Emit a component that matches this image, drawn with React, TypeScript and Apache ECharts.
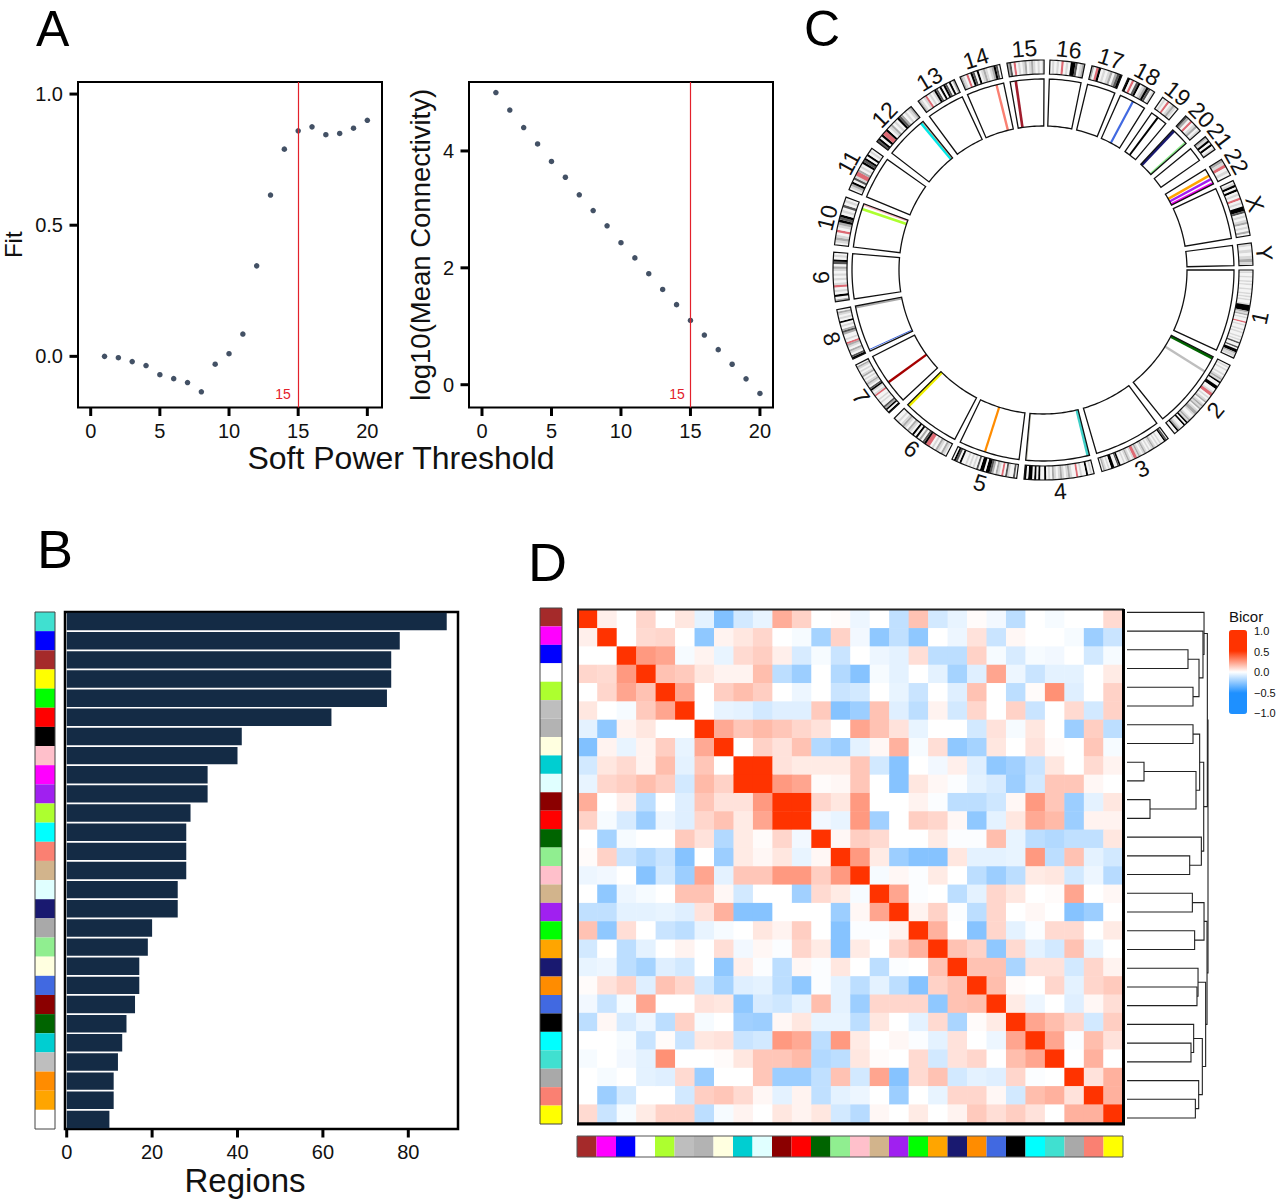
import React, { useEffect, useRef } from "react";
import * as echarts from "echarts";

const FONT = '"Liberation Sans", Arial, sans-serif';

// Panel A
const powers = [1,2,3,4,5,6,7,8,9,10,11,12,13,14,15,16,17,18,19,20];
const fitValues = [0.0,-0.005,-0.02,-0.035,-0.07,-0.085,-0.1,-0.135,-0.03,0.01,0.085,0.345,0.615,0.79,0.86,0.875,0.845,0.85,0.87,0.9];
const connectivity = [5.0,4.7,4.4,4.12,3.82,3.55,3.25,2.98,2.72,2.43,2.17,1.9,1.63,1.37,1.1,0.85,0.6,0.35,0.1,-0.15];
const powerTicks = [0,5,10,15,20];
const fitTicks = [0,0.5,1];
const connectivityTicks = [0,2,4];

// Panel B
const moduleColors = ["#40E0D0","#0000FF","#A52A2A","#FFFF00","#00FF00","#FF0000","#000000","#FFC0CB","#FF00FF","#A020F0","#ADFF2F","#00FFFF","#FA8072","#D2B48C","#E0FFFF","#191970","#A9A9A9","#90EE90","#FFFFE0","#4169E1","#8B0000","#006400","#00CED1","#BEBEBE","#FF8C00","#FFA500","#FFFFFF"];
const regionCounts = [89,78,76,76,75,62,41,40,33,33,29,28,28,28,26,26,20,19,17,17,16,14,13,12,11,11,10];
const regionTicks = [0,20,40,60,80];

// Panel D
const heatColors = ["#A52A2A","#FF00FF","#0000FF","#FFFFFF","#ADFF2F","#BEBEBE","#B3B3B3","#FFFFE0","#00CED1","#E0FFFF","#8B0000","#FF0000","#006400","#90EE90","#FFC0CB","#D2B48C","#A020F0","#00FF00","#FFA500","#191970","#FF8C00","#4169E1","#000000","#00FFFF","#40E0D0","#A9A9A9","#FA8072","#FFFF00"];
const bicorUpper: number[][] = [
  [1,.04,0,.10,0,.06,-.06,-.28,-.10,-.05,.20,.11,0,.01,-.04,0,-.14,.15,-.10,-.05,.01,-.03,-.15,0,-.02,0,0,.09],
  [1,0,.09,.10,0,-.25,.03,.06,.10,0,-.02,-.20,.11,-.03,-.25,-.14,-.25,0,-.04,.07,-.12,.02,0,0,-.02,-.22,-.12],
  [1,.25,.22,-.02,.03,-.05,.09,.12,.04,-.09,-.02,-.12,0,-.04,-.06,.08,-.15,-.15,.11,-.02,-.09,-.02,-.03,0,-.10,-.02],
  [1,.15,.13,.06,.03,.03,.16,-.15,-.22,0,-.17,-.27,-.02,-.06,0,-.06,-.20,-.07,.22,-.04,-.12,-.06,-.06,0,.05],
  [1,.22,0,.12,.16,.12,0,-.04,0,-.12,-.10,0,-.05,-.12,0,-.07,.15,0,-.15,.01,.27,-.07,0,.11],
  [1,0,-.05,-.06,-.10,-.07,-.07,.13,-.27,-.22,.15,-.07,-.15,.03,-.10,.10,0,.11,-.12,0,.09,-.10,.11],
  [1,.21,.14,.17,.14,.10,.07,0,.22,.15,.07,-.05,0,0,-.10,.07,-.02,.06,0,-.22,.12,-.15],
  [1,0,.11,.07,.15,-.17,-.22,-.06,.02,.19,-.02,.08,-.25,-.20,.06,0,.07,.01,0,.14,-.02],
  [1,1,.07,.05,.05,.05,.14,-.10,-.27,0,-.03,.04,-.07,-.25,-.21,-.12,.06,0,.09,.03],
  [1,.25,.22,.01,.02,.14,0,-.27,.06,.02,-.01,-.06,-.09,-.22,-.10,.14,.14,.02,0],
  [1,1,.10,.06,.25,0,0,.03,-.01,-.15,-.15,-.11,.02,.25,.14,-.22,-.06,.06],
  [1,-.03,-.05,.25,-.21,0,.12,.10,.02,-.25,-.06,.06,.21,.17,-.22,.03,.03],
  [1,.02,.12,.09,0,0,.05,-.01,-.01,.16,-.05,-.15,-.17,-.14,-.14,.06],
  [1,.25,.05,-.22,-.27,-.27,.06,-.06,-.06,-.05,.25,-.15,.15,-.06,-.10],
  [1,-.02,.02,-.01,.05,0,-.15,-.22,-.15,.05,.06,-.10,-.04,-.16],
  [1,.22,-.01,0,-.15,-.06,.10,.06,0,.01,.22,0,.02],
  [1,.03,.11,-.01,-.15,.10,0,.02,0,-.27,-.22,0],
  [1,.19,0,-.27,.10,-.06,-.01,.09,.09,0,.05],
  [1,.15,.11,-.25,.09,-.06,-.10,.15,-.05,0],
  [1,.15,.15,-.19,.07,.07,-.10,.10,.03],
  [1,.16,.01,0,.10,-.06,.10,.13],
  [1,.05,-.04,0,-.07,.02,.08],
  [1,.22,.16,.10,-.10,.12],
  [1,.22,-.01,.16,.07],
  [1,0,.19,0],
  [1,.07,.19],
  [1,.19],
  [1],
];
const bicorStops = ["#1E90FF","#1E90FF","#FFFFFF","#FF3300","#FF3300"];

// dendrogram: [left node, right node, merge height]; leaves are 0..27, merges follow from 28
const dendroMerges: [number,number,number][] = [
  [2,3,.753],[4,5,.815],[28,29,.889],[1,30,.938],[0,31,.951],
  [8,9,.21],[10,11,.284],[33,34,.852],[6,7,.815],[36,35,.897],
  [13,14,.774],[12,38,.918],[37,39,.947],[32,40,.992],
  [15,16,.807],[17,18,.835],[42,43,.951],[20,21,.864],[19,45,.877],
  [23,24,.79],[22,47,.823],[26,27,.844],[25,49,.885],[48,50,.93],
  [46,51,.971],[44,52,.988],[41,53,1],
];

// Panel C: angles are degrees clockwise from the top
const chromNames = ["1","2","3","4","5","6","7","8","9","10","11","12","13","14","15","16","17","18","19","20","21","22","X","Y"];
const chromStart = [90,117,143.4,165.9,187.2,207.5,227.1,244.9,261.3,276.9,292.5,307.7,323.5,336.7,350.1,361.9,373.5,383.9,394.7,402.8,410.6,418.2,424.8,442.6];
const chromEnd = [114.8,141.2,163.7,185.2,205.7,225.1,243.1,259.1,274.9,290.3,305.4,321.1,335,348.1,360.3,371.5,382.1,392.1,400,408.5,415,423.2,440.5,448.7];
const chromBands = [
  "wlwwlwwlwlwwlwwlwlwlwwlkkkkglgwlwwrwlwwlwlwwlwlwdwwdwkkgllw",
  "wlwlwwlwlglkwwkkwwlrrwlwlgwlglgwlgglwwlglkwkwwlgkww",
  "wdkwwlwlwlglwlwlglwlglrrlwlglwlwwkdwwkkwlwlgw",
  "wlwkwwlwrwwlglwlglwlgwlwkwwkwkwkkwk",
  "wdwwldwrwlgwgdkkwkkwdwlwlwlwwkwdkw",
  "wlgwlgwlwrrkdwgwkwkwlgwlglwlww",
  "kwkgdwwlwlwwrlwlkdwlglwlwglwlwlgw",
  "kdwlgwlgrwlwwgdgwlwkwlwlgw",
  "gwkwlwrlwlwlwlgwdkwlw",
  "wlglwrwlgkdkwlwdwlw",
  "wlgkwdlrrgwlwkdkwkwlw",
  "dkwkrrkwlgwlwkdgwlwlg",
  "glwlrwlwlkdwkwkdwkwg",
  "glwrwkdwkwlglwlgkdw",
  "gdwrwlwlgwlglwlwl",
  "wlwlwrwlwkkdwlg",
  "gwrkwlwlgwgdk",
  "kwrwdkwlgkdwl",
  "wlwrwlglw",
  "dgwrwlgwl",
  "glkwkwl",
  "glrwlw",
  "wlkwkwlwrwlwkkdwlwlgwlwgw",
  "lwlwlgl",
];
const bandShades: Record<string,string> = { w:"#F4F4F4", l:"#D8D8D8", g:"#AAAAAA", d:"#555555", k:"#000000", r:"#DE6A74" };
const linkAngles = [117.5,122.1,166.4,184.9,197.7,224.7,234,245.4,258.7,288.6,290,320.3,320.9,345.9,351.8,388.1,397,403.3,408.2,420.4,421.6,422.9];
const linkColors = ["#006400","#BEBEBE","#40D0C8","#BBBBAA","#FF8C00","#EEEE00","#A50000","#4169E1","#AAAAAA","#ADFF2F","#F5B0B8","#00E8E8","#C89878","#FA8072","#A01C2C","#4169E1","#000000","#191970","#90EE90","#FFA500","#A020F0","#EE00EE"];
const linkWidths = [3,2.4,3,1,2.2,3.2,2.4,1,2.4,2.6,2,2.6,1.2,2.4,2.6,2.2,2,2.6,2.2,2.4,2.4,2.4];

const ROWS = heatColors.length;
const heatData: number[][] = [];
bicorUpper.forEach((row, r) => row.forEach((v, k) => {
  const c = r + k;
  heatData.push([c, r, v]);
  if (c !== r) heatData.push([r, c, v]);
}));

// resolve node positions for the dendrogram
const nodeY: number[] = heatColors.map((_, i) => i);
const nodeH: number[] = heatColors.map(() => 0);
const dendroData: number[][] = dendroMerges.map(([a, b, h]) => {
  const row = [h, nodeY[a], nodeY[b], nodeH[a], nodeH[b]];
  nodeY.push((nodeY[a] + nodeY[b]) / 2);
  nodeH.push(h);
  return row;
});

const bandRows: { s: number; e: number; c: string }[] = [];
chromBands.forEach((str, i) => {
  const span = chromEnd[i] - chromStart[i];
  let k = 0;
  while (k < str.length) {
    let j = k;
    while (j + 1 < str.length && str[j + 1] === str[k]) j++;
    bandRows.push({ s: chromStart[i] + (span * k) / str.length, e: chromStart[i] + (span * (j + 1)) / str.length, c: bandShades[str[k]] });
    k = j + 1;
  }
});

const R_IN0 = 144, R_IN1 = 191, R_OUT0 = 196, R_OUT1 = 210, R_LABEL = 222;

function arcPolygon(api: any, s: number, e: number, r0: number, r1: number) {
  const pts: number[][] = [];
  const n = Math.max(1, Math.ceil(e - s));
  for (let i = 0; i <= n; i++) pts.push(api.coord([r1, s + ((e - s) * i) / n]));
  for (let i = n; i >= 0; i--) pts.push(api.coord([r0, s + ((e - s) * i) / n]));
  return pts;
}

function tickAxis(values: number[], margin: number, formatter?: (v: number) => string) {
  return {
    axisLine: { show: false, onZero: false },
    axisTick: { show: false },
    axisLabel: { show: true, color: "#111", fontSize: 20, fontFamily: FONT, margin, customValues: values, ...(formatter ? { formatter } : {}) },
    splitLine: { show: false },
  };
}

// tick marks drawn outward from a panel's frame through that panel's own axes
function tickSeries(axisIndex: number, dir: "x" | "y", values: number[], edge: number) {
  return {
    type: "custom", xAxisIndex: axisIndex, yAxisIndex: axisIndex, silent: true, clip: false,
    data: values.map((v) => (dir === "x" ? [v, edge] : [edge, v])),
    renderItem: (_p: any, api: any) => {
      const p = api.coord([api.value(0), api.value(1)]);
      const q = dir === "x" ? [p[0], p[1] + 8.5] : [p[0] - 8.5, p[1]];
      return { type: "line", shape: { x1: p[0], y1: p[1], x2: q[0], y2: q[1] }, style: { stroke: "#000", lineWidth: 3 } };
    },
  };
}

const A1X = { min: -0.918, max: 21.06 };
const A2X = { min: -0.935, max: 20.94 };
const BX = { min: -0.4, max: 91.64 };
const A1Y = { min: -0.195, max: 1.046 };
const A2Y = { min: -0.39, max: 5.18 };

function buildOption(): any {
  const frame = (x: number, y: number, w: number, h: number, lw: number, stroke: string) => ({
    type: "rect", z: 50, silent: true, shape: { x, y, width: w, height: h }, style: { fill: "none", stroke, lineWidth: lw },
  });
  const seg = (x1: number, y1: number, x2: number, y2: number, lw: number) => ({
    type: "line", z: 51, silent: true, shape: { x1, y1, x2, y2 }, style: { stroke: "#000", lineWidth: lw },
  });
  const txt = (text: string, x: number, y: number, fontSize: number, fill = "#000", align = "left") => ({
    type: "text", z: 50, silent: true, x, y, style: { text, x: 0, y: 0, fontSize, fontFamily: FONT, fill, align, verticalAlign: "middle" },
  });

  const catAxis = (gridIndex: number, data: any[], inverse = false) => ({
    type: "category", gridIndex, data, inverse, show: false,
  });
  const hiddenVal = (gridIndex: number) => ({ type: "value", gridIndex, min: 0, max: 1, show: false });
  const redLine = { silent: true, symbol: "none", label: { show: false }, lineStyle: { color: "#E3212B", width: 1.2, type: "solid" }, data: [{ xAxis: 15 }] };
  const box = { outerBoundsMode: "none" };

  return {
    animation: false,
    backgroundColor: "#fff",
    grid: [
      { ...box, left: 78, top: 82, width: 304, height: 325.5, show: true, borderColor: "#000", borderWidth: 2, backgroundColor: "transparent" },
      { ...box, left: 469, top: 82, width: 304, height: 325.5, show: true, borderColor: "#000", borderWidth: 2, backgroundColor: "transparent" },
      { ...box, left: 65, top: 612, width: 393, height: 517, show: true, borderColor: "#000", borderWidth: 2.5, backgroundColor: "transparent" },
      { ...box, left: 35, top: 612, width: 20, height: 517 },
      { ...box, left: 578, top: 610, width: 545, height: 513 },
      { ...box, left: 540, top: 608, width: 22, height: 516 },
      { ...box, left: 577, top: 1136, width: 546, height: 21 },
      { ...box, left: 1127, top: 603, width: 81, height: 524.4 },
      { ...box, left: 1229, top: 631, width: 18, height: 82 },
    ],
    xAxis: [
      { type: "value", gridIndex: 0, ...A1X, ...tickAxis(powerTicks, 13.5) },
      { type: "value", gridIndex: 1, ...A2X, ...tickAxis(powerTicks, 13.5) },
      { type: "value", gridIndex: 2, ...BX, ...tickAxis(regionTicks, 13) },
      hiddenVal(3),
      catAxis(4, heatColors),
      hiddenVal(5),
      catAxis(6, heatColors),
      { type: "value", gridIndex: 7, min: 0, max: 1, show: false },
      { type: "value", gridIndex: 8, min: 0, max: 1, show: false },
    ],
    yAxis: [
      { type: "value", gridIndex: 0, ...A1Y, ...tickAxis(fitTicks, 15, (v: number) => v.toFixed(1)),
        name: "Fit", nameLocation: "middle", nameGap: 53, nameTextStyle: { fontSize: 24, fontFamily: FONT, color: "#111" } },
      { type: "value", gridIndex: 1, ...A2Y, ...tickAxis(connectivityTicks, 15, (v: number) => String(v)),
        name: "log10(Mean Connectivity)", nameLocation: "middle", nameGap: 35, nameTextStyle: { fontSize: 27.5, fontFamily: FONT, color: "#111" } },
      { type: "value", gridIndex: 2, min: 0, max: 1, show: false },
      catAxis(3, moduleColors, true),
      catAxis(4, heatColors, true),
      catAxis(5, heatColors, true),
      hiddenVal(6),
      { type: "value", gridIndex: 7, min: -0.5, max: ROWS - 0.5, inverse: true, show: false },
      { type: "value", gridIndex: 8, min: -1, max: 1, interval: 0.5, position: "right",
        axisLine: { show: false }, axisTick: { show: false }, splitLine: { show: false },
        axisLabel: { fontSize: 11, fontFamily: FONT, color: "#111", margin: 7, formatter: (v: number) => v.toFixed(1).replace("-", "\u2212") } },
      { type: "category", gridIndex: 2, inverse: true, data: moduleColors, show: false },
    ],
    polar: { center: [1043, 270], radius: 230 },
    angleAxis: { min: 0, max: 360, startAngle: 90, clockwise: true, show: false },
    radiusAxis: { min: 0, max: 230, show: false },
    visualMap: {
      type: "continuous", seriesIndex: 4, dimension: 2, min: -1, max: 1, calculable: false, orient: "vertical",
      left: 1229, top: 630, itemWidth: 18, itemHeight: 84, padding: 0, text: ["", ""], textGap: 0,
      inRange: { color: bicorStops },
    },
    series: [
      { type: "scatter", xAxisIndex: 0, yAxisIndex: 0, symbolSize: 5.5, z: 3, itemStyle: { color: "#14263F" }, data: powers.map((p, i) => [p, fitValues[i]]), markLine: redLine },
      { type: "scatter", xAxisIndex: 1, yAxisIndex: 1, symbolSize: 5.5, z: 3, itemStyle: { color: "#14263F" }, data: powers.map((p, i) => [p, connectivity[i]]), markLine: redLine },
      { type: "bar", xAxisIndex: 2, yAxisIndex: 9, data: regionCounts, barCategoryGap: "9%", itemStyle: { color: "#142B45" } },
      { type: "bar", xAxisIndex: 3, yAxisIndex: 3, barWidth: "100%", data: moduleColors.map((c) => ({ value: 1, itemStyle: { color: c } })) },
      { type: "heatmap", xAxisIndex: 4, yAxisIndex: 4, data: heatData },
      { type: "bar", xAxisIndex: 5, yAxisIndex: 5, barWidth: "100%", data: heatColors.map((c) => ({ value: 1, itemStyle: { color: c } })) },
      { type: "bar", xAxisIndex: 6, yAxisIndex: 6, barWidth: "100%", data: heatColors.map((c) => ({ value: 1, itemStyle: { color: c } })) },
      { type: "custom", xAxisIndex: 7, yAxisIndex: 7, clip: false, encode: { x: 0, y: 1 }, data: dendroData,
        renderItem: (_p: any, api: any) => ({
          type: "polyline",
          shape: { points: [api.coord([api.value(3), api.value(1)]), api.coord([api.value(0), api.value(1)]), api.coord([api.value(0), api.value(2)]), api.coord([api.value(4), api.value(2)])] },
          style: { stroke: "#222", lineWidth: 1.1, fill: "none" },
        }) },
      // axis tick marks
      tickSeries(0, "x", powerTicks, A1Y.min),
      tickSeries(0, "y", fitTicks, A1X.min),
      tickSeries(1, "x", powerTicks, A2Y.min),
      tickSeries(1, "y", connectivityTicks, A2X.min),
      tickSeries(2, "x", regionTicks, 0),
      // ring backgrounds
      { type: "custom", coordinateSystem: "polar", silent: true, data: chromStart.map((s, i) => [s, chromEnd[i]]),
        renderItem: (_p: any, api: any) => ({ type: "polygon", shape: { points: arcPolygon(api, api.value(0), api.value(1), R_OUT0, R_OUT1) }, style: { fill: "#F0F0F0" } }) },
      // ideogram bands
      { type: "custom", coordinateSystem: "polar", silent: true, data: bandRows.map((b) => [b.s, b.e]),
        renderItem: (p: any, api: any) => ({ type: "polygon", shape: { points: arcPolygon(api, api.value(0), api.value(1), R_OUT0, R_OUT1) }, style: { fill: bandRows[p.dataIndex].c } }) },
      // module links
      { type: "custom", coordinateSystem: "polar", silent: true, data: linkAngles.map((a) => [a]),
        renderItem: (p: any, api: any) => {
          const a = api.coord([R_IN0, api.value(0)]);
          const b = api.coord([R_IN1, api.value(0)]);
          return { type: "line", shape: { x1: a[0], y1: a[1], x2: b[0], y2: b[1] }, style: { stroke: linkColors[p.dataIndex], lineWidth: linkWidths[p.dataIndex] } };
        } },
      // ring outlines
      { type: "custom", coordinateSystem: "polar", silent: true, data: chromStart.map((s, i) => [s, chromEnd[i]]),
        renderItem: (_p: any, api: any) => ({ type: "group", children: [
          { type: "polygon", shape: { points: arcPolygon(api, api.value(0), api.value(1), R_IN0, R_IN1) }, style: { fill: "none", stroke: "#111", lineWidth: 1.3 } },
          { type: "polygon", shape: { points: arcPolygon(api, api.value(0), api.value(1), R_OUT0, R_OUT1) }, style: { fill: "none", stroke: "#111", lineWidth: 1.2 } },
        ] }) },
      // chromosome names
      { type: "custom", coordinateSystem: "polar", silent: true, data: chromStart.map((s, i) => [(s + chromEnd[i]) / 2]),
        renderItem: (p: any, api: any) => {
          const mid = api.value(0);
          const pt = api.coord([R_LABEL, mid]);
          const m = mid % 360;
          const rot = m > 90 && m < 270 ? m + 180 : m;
          return { type: "text", x: pt[0], y: pt[1], rotation: (-rot * Math.PI) / 180,
            style: { text: chromNames[p.dataIndex], fontSize: 23, fontFamily: FONT, fill: "#111", align: "center", verticalAlign: "middle" } };
        } },
    ],
    graphic: [
      frame(578, 609.5, 545, 514, 1.8, "#222"),
      seg(1123.5, 609, 1123.5, 1125, 3),
      seg(577, 1124, 1125, 1124, 3),
      frame(35, 612, 20, 517, 1, "#444"),
      frame(540, 608, 22, 516, 1, "#444"),
      frame(577, 1136, 546, 21, 1, "#555"),
      txt("A", 36, 29, 50),
      txt("B", 37, 549, 54),
      txt("C", 804, 29, 50),
      txt("D", 528, 562, 54),
      txt("Soft Power Threshold", 401, 458, 32, "#111", "center"),
      txt("Regions", 245, 1180, 33, "#111", "center"),
      txt("15", 283, 394, 14, "#E3212B", "center"),
      txt("15", 677, 394, 14, "#E3212B", "center"),
      txt("Bicor", 1229, 616, 15, "#111"),
    ],
  };
}

export default function App() {
  const ref = useRef<HTMLDivElement>(null);
  useEffect(() => {
    document.body.style.margin = "0";
    const chart = echarts.init(ref.current!, undefined, { renderer: "svg" });
    chart.setOption(buildOption());
    return () => chart.dispose();
  }, []);
  return <div ref={ref} style={{ position: "absolute", left: 0, top: 0, width: 1280, height: 1201 }} />;
}
